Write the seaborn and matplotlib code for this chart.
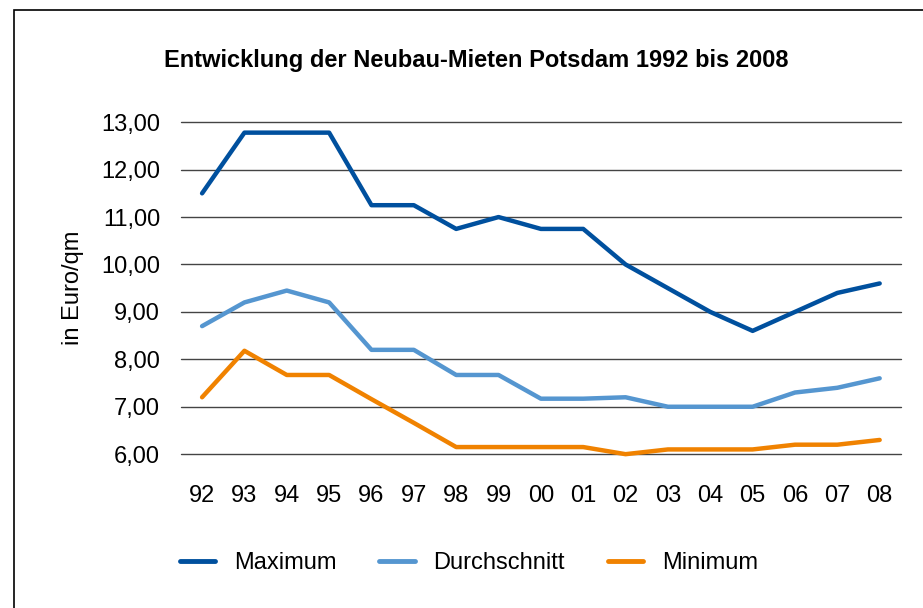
import pandas as pd
import seaborn as sns
import matplotlib.pyplot as plt
from matplotlib.patches import Rectangle

# --- DATA ---
years = ["92", "93", "94", "95", "96", "97", "98", "99", "00",
         "01", "02", "03", "04", "05", "06", "07", "08"]
maximum = [11.5, 12.78, 12.78, 12.78, 11.25, 11.25, 10.75, 11.0, 10.75,
           10.75, 10.0, 9.5, 9.0, 8.6, 9.0, 9.4, 9.6]
durchschnitt = [8.7, 9.2, 9.45, 9.2, 8.2, 8.2, 7.67, 7.67, 7.17,
                7.17, 7.2, 7.0, 7.0, 7.0, 7.3, 7.4, 7.6]
minimum = [7.2, 8.18, 7.67, 7.67, 7.16, 6.66, 6.15, 6.15, 6.15,
           6.15, 6.0, 6.1, 6.1, 6.1, 6.2, 6.2, 6.3]
y_ticks = [6, 7, 8, 9, 10, 11, 12, 13]

series = {"Maximum": maximum, "Durchschnitt": durchschnitt, "Minimum": minimum}
colors = {"Maximum": "#00509E", "Durchschnitt": "#5596D0", "Minimum": "#F08200"}

df = pd.concat(
    [pd.DataFrame({"jahr": range(len(years)), "miete": v, "reihe": k})
     for k, v in series.items()],
    ignore_index=True,
)

sns.set_style("white")
plt.rcParams["font.family"] = ["Liberation Sans", "DejaVu Sans"]
plt.rcParams["text.color"] = "black"
plt.rcParams["xtick.color"] = "black"
plt.rcParams["ytick.color"] = "black"
plt.rcParams["axes.labelcolor"] = "black"

fig = plt.figure(figsize=(9.23, 6.08), dpi=100)
ax = fig.add_axes([0.196, 0.253, 0.78, 0.546])

sns.lineplot(data=df, x="jahr", y="miete", hue="reihe", palette=colors,
             linewidth=3.2, ax=ax, legend=False, clip_on=False, zorder=3)

ax.set_xlim(-0.5, len(years) - 0.5)
ax.set_ylim(6, 13)
ax.set_yticks(y_ticks)
ax.set_yticklabels([f"{t:.2f}".replace(".", ",") for t in y_ticks], fontsize=17)
ax.set_xticks(range(len(years)))
ax.set_xticklabels(years, fontsize=17)
ax.tick_params(axis="x", length=0, pad=22)
ax.tick_params(axis="y", length=0, pad=15)
ax.yaxis.grid(True, color="#444444", linewidth=1)
ax.xaxis.grid(False)
for gl in ax.get_ygridlines():
    gl.set_clip_on(False)
for s in ax.spines.values():
    s.set_visible(False)
ax.set_xlabel("")
ax.set_ylabel("in Euro/qm", fontsize=17, labelpad=12)

fig.text(0.516, 0.900, "Entwicklung der Neubau-Mieten Potsdam 1992 bis 2008",
         ha="center", va="center", fontsize=17, fontweight="bold")

handles = [plt.Line2D([], [], color=colors[k], linewidth=3.5) for k in series]
fig.legend(handles, list(series.keys()), loc="center left",
           bbox_to_anchor=(0.195, 0.074), ncol=3, frameon=False, fontsize=17,
           handlelength=1.5, handletextpad=0.8, columnspacing=1.8,
           borderpad=0, borderaxespad=0)

# outer frame (cut off at right/bottom like the source)
fig.patches.append(Rectangle((0.015, -0.1), 1.2, 1.0836, transform=fig.transFigure,
                             fill=False, edgecolor="black", linewidth=1.2))

fig.savefig("out.png", dpi=100)
